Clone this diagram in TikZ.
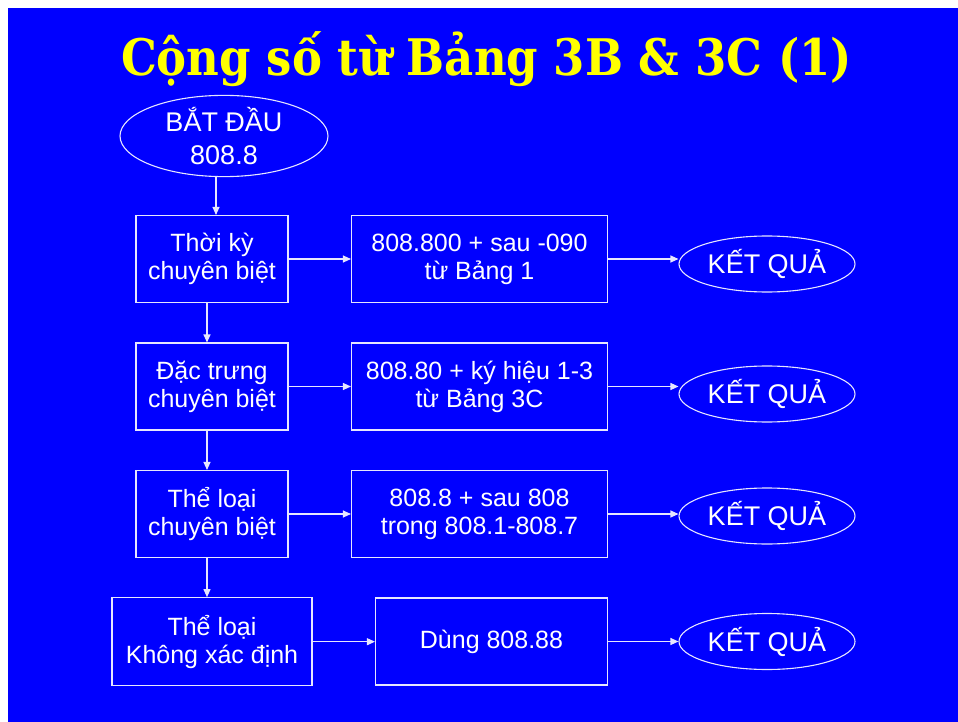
\documentclass[tikz,border=0pt]{standalone}
\usepackage{fontspec}
\setmainfont{Liberation Sans}
\newfontfamily\titlefont{DejaVu Serif}
\usetikzlibrary{arrows.meta,shapes.geometric}

\definecolor{slideblue}{RGB}{0,0,255}
\definecolor{slidegold}{RGB}{255,255,0}
\definecolor{lineclr}{RGB}{230,230,255}

\tikzset{
  box/.style={draw=lineclr,line width=1.1pt,text=white,align=center,inner sep=0pt,
    minimum width=152pt,minimum height=87pt,font=\fontsize{25}{28}\selectfont},
  rbox/.style={box,minimum width=256pt},
  oval/.style={ellipse,draw=lineclr,line width=1.1pt,text=white,align=center,inner sep=0pt,
    minimum width=176pt,minimum height=56pt,font=\fontsize{27}{33}\selectfont},
  arr/.style={draw=lineclr,line width=1.1pt,-{Triangle[length=8pt,width=7pt]}}
}

\begin{document}
\begin{tikzpicture}[x=1pt,y=-1pt]
  \useasboundingbox (0,0) rectangle (958,722);
  \fill[white] (0,0) rectangle (958,722);
  \fill[slideblue] (8,8) rectangle (958,722);
  \node[anchor=base,text=slidegold,font=\titlefont\bfseries\fontsize{45}{50}\selectfont] (title) at (486.5,76) {\scalebox{1}[1.12]{Cộng số từ Bảng 3B \& 3C (1)}};

  % start
  \node[oval,minimum width=208pt,minimum height=78pt] (start) at (224,136) {BẮT ĐẦU\\808.8};

  % left column
  \node[box] (t1) at (212,259) {Thời kỳ\\chuyên biệt};
  \node[box] (t2) at (212,386.5) {Đặc trưng\\chuyên biệt};
  \node[box] (t3) at (212,514) {Thể loại\\chuyên biệt};
  \node[box,minimum width=200pt,minimum height=88pt] (t4) at (212,641.7) {Thể loại\\Không xác định};

  % middle column
  \node[rbox] (r1) at (479.5,259) {808.800 + sau -090\\từ Bảng 1};
  \node[rbox] (r2) at (479.5,386.5) {808.80 + ký hiệu 1-3\\từ Bảng 3C};
  \node[rbox] (r3) at (479.5,514) {808.8 + sau 808\\trong 808.1-808.7};
  \node[rbox,minimum width=232pt] (r4) at (491.5,641.5) {Dùng 808.88};

  % results
  \node[oval] (k1) at (767,264) {KẾT QUẢ};
  \node[oval] (k2) at (767,394) {KẾT QUẢ};
  \node[oval] (k3) at (767,516) {KẾT QUẢ};
  \node[oval] (k4) at (767,641.5) {KẾT QUẢ};

  % connectors
  \draw[arr] ([xshift=4pt]t1.north |- start.south) -- ([xshift=4pt]t1.north);
  \foreach \a/\b in {t1/t2,t2/t3,t3/t4}
    \draw[arr] ([xshift=-5pt]\a.south) -- ([xshift=-5pt]\a.south |- \b.north);
  \foreach \a/\b/\c in {t1/r1/k1,t2/r2/k2,t3/r3/k3,t4/r4/k4} {
    \draw[arr] (\a.east) -- (\a.east -| \b.west);
    \draw[arr] (\b.east) -- (\b.east -| \c.west);
  }
\end{tikzpicture}
\end{document}
